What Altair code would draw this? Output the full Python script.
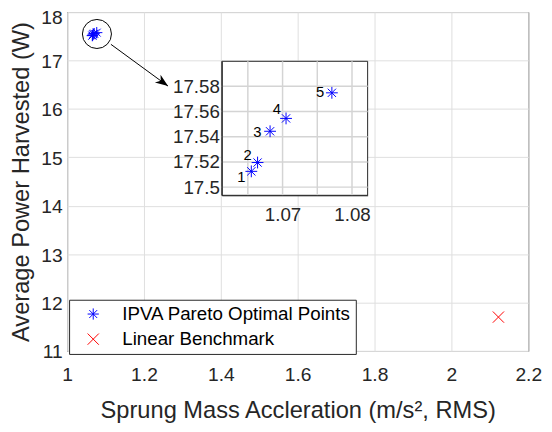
import altair as alt
import pandas as pd

# ---------------- data ----------------
series_names = ["IPVA Pareto Optimal Points", "Linear Benchmark"]
pareto_x = [1.0655, 1.0664, 1.0682, 1.0705, 1.0771]
pareto_y = [17.5125, 17.5195, 17.5443, 17.5545, 17.5748]
pareto_ids = ["1", "2", "3", "4", "5"]
bench_x = [2.1224]
bench_y = [11.70]

x_limits = [1.0, 2.2]
y_limits = [11.0, 18.0]
x_ticks = [1.0, 1.2, 1.4, 1.6, 1.8, 2.0, 2.2]
y_ticks = [11, 12, 13, 14, 15, 16, 17, 18]

inset_x_limits = [1.06125, 1.08225]
inset_y_limits = [17.4935, 17.5998]
inset_x_grid = [1.065, 1.07, 1.075, 1.08]
inset_x_labels = [1.07, 1.08]
inset_y_ticks = [17.50, 17.52, 17.54, 17.56, 17.58]

zoom_circle_xy = [1.0776, 17.547]
arrow_from = [1.114, 17.333]
arrow_to = [1.2626, 16.471]
arrow_head_xy = [1.2492, 16.549]

# ---------------- style ----------------
FONT = "Liberation Sans"
AX = "#262626"
GRID = "#dedede"
INSET_GRID = "#d4d4d4"
W, H = 468, 344
ASTERISK = "M-1,0L1,0M0,-1L0,1M-0.7,-0.7L0.7,0.7M-0.7,0.7L0.7,-0.7"
XMARK = "M-1,-1L1,1M-1,1L1,-1"
ARROWHEAD = "M1,0L-1,-0.75L-0.4,0L-1,0.75Z"
label_offsets = [(-10, 6), (-10, -7.7), (-12.8, 1.3), (-9.3, -9.7), (-12, -0.3)]

main_xs = alt.Scale(domain=x_limits, nice=False, zero=False)
main_ys = alt.Scale(domain=y_limits, nice=False, zero=False)

main_x_axis = alt.Axis(
    orient="bottom", values=x_ticks, format="~g",
    title="Sprung Mass Accleration (m/s\u00b2, RMS)",
    grid=True, gridColor=GRID, gridWidth=1, domain=False, ticks=False, tickSize=0,
    labelFont=FONT, labelFontSize=19.5, labelColor=AX, labelPadding=30,
    labelBaseline="alphabetic", labelFlush=False, labelOverlap=False,
    titleFont=FONT, titleFontSize=24, titleFontWeight="normal", titleColor=AX,
    titleBaseline="alphabetic", titleY=68,
)
main_y_axis = alt.Axis(
    orient="left", values=y_ticks, format="d",
    title="Average Power Harvested (W)",
    grid=True, gridColor=GRID, gridWidth=1, domain=False, ticks=False, tickSize=0,
    labelFont=FONT, labelFontSize=19.5, labelColor=AX, labelPadding=5,
    labelOffset={"condition": {"test": "datum.value >= 18", "value": 6}, "value": 1},
    labelFlush=False, labelOverlap=False,
    titleFont=FONT, titleFontSize=24, titleFontWeight="normal", titleColor=AX,
    titleBaseline="alphabetic", titleAngle=-90, titleX=-39.5, titleY=172,
)

legend = alt.Legend(
    title=None, orient="none", legendX=2, legendY=292,
    padding=5, rowPadding=5.5, strokeColor=AX, fillColor="white", cornerRadius=0,
    symbolSize=130, symbolStrokeWidth=1, symbolOffset=10, labelOffset=20,
    labelFont=FONT, labelFontSize=19, labelColor="black", labelLimit=400,
)

pts_df = pd.DataFrame({
    "x": pareto_x + bench_x,
    "y": pareto_y + bench_y,
    "series": [series_names[0]] * len(pareto_x) + [series_names[1]] * len(bench_x),
})


def mx(field="x"):
    return alt.X(f"{field}:Q", scale=main_xs, axis=main_x_axis)


def my(field="y"):
    return alt.Y(f"{field}:Q", scale=main_ys, axis=main_y_axis)


points = alt.Chart(pts_df).mark_point(filled=False, strokeWidth=1, size=130, opacity=1).encode(
    x=mx(), y=my(),
    color=alt.Color("series:N", scale=alt.Scale(domain=series_names, range=["#0000ff", "#ff0000"]), legend=legend),
    shape=alt.Shape("series:N", scale=alt.Scale(domain=series_names, range=[ASTERISK, XMARK]), legend=legend),
)

circle = alt.Chart(pd.DataFrame({"x": [zoom_circle_xy[0]], "y": [zoom_circle_xy[1]]})).mark_point(
    shape="circle", filled=False, size=870, color="black", strokeWidth=1, opacity=1
).encode(x=mx(), y=my())

arrow_line = alt.Chart(pd.DataFrame({
    "x": [arrow_from[0]], "y": [arrow_from[1]], "x2": [arrow_to[0]], "y2": [arrow_to[1]]
})).mark_rule(color="black", strokeWidth=1).encode(x=mx(), y=my(), x2="x2:Q", y2="y2:Q")

arrow_head = alt.Chart(pd.DataFrame({"x": [arrow_head_xy[0]], "y": [arrow_head_xy[1]]})).mark_point(
    shape=ARROWHEAD, filled=True, size=169, angle=36, color="black", opacity=1
).encode(x=mx(), y=my())

main = alt.layer(points, circle, arrow_line, arrow_head)

# ---------------- inset ----------------
ixs = alt.Scale(domain=inset_x_limits, range=[157, 305], nice=False, zero=False)
iys = alt.Scale(domain=inset_y_limits, range=[186, 50], nice=False, zero=False)
inset_x_axis = alt.Axis(
    orient="bottom", offset=-158, values=inset_x_labels, format="~g", title=None,
    grid=False, domain=True, domainColor=AX, domainWidth=1, ticks=False, tickSize=0,
    labelFont=FONT, labelFontSize=19, labelColor=AX, labelBaseline="alphabetic",
    labelPadding=25.7, labelFlush=False, labelOverlap=False, zindex=1,
)
inset_y_axis = alt.Axis(
    orient="left", offset=-157, values=inset_y_ticks, format="~g", title=None,
    grid=False, domain=True, domainColor=AX, domainWidth=1, ticks=False, tickSize=0,
    labelFont=FONT, labelFontSize=19, labelColor=AX, labelPadding=2.5,
    labelFlush=False, labelOverlap=False, zindex=1,
)


def ix(field="x"):
    return alt.X(f"{field}:Q", scale=ixs, axis=inset_x_axis)


def iy(field="y"):
    return alt.Y(f"{field}:Q", scale=iys, axis=inset_y_axis)


box = alt.Chart(pd.DataFrame({
    "x": [inset_x_limits[0]], "x2": [inset_x_limits[1]],
    "y": [inset_y_limits[0]], "y2": [inset_y_limits[1]],
})).mark_rect(fill="white", stroke=AX, strokeWidth=1).encode(x=ix(), x2="x2:Q", y=iy(), y2="y2:Q")

vgrid = alt.Chart(pd.DataFrame({
    "x": inset_x_grid,
    "y": [inset_y_limits[0]] * len(inset_x_grid),
    "y2": [inset_y_limits[1]] * len(inset_x_grid),
})).mark_rule(color=INSET_GRID, strokeWidth=1.5).encode(x=ix(), y=iy(), y2="y2:Q")

hgrid = alt.Chart(pd.DataFrame({
    "y": inset_y_ticks,
    "x": [inset_x_limits[0]] * len(inset_y_ticks),
    "x2": [inset_x_limits[1]] * len(inset_y_ticks),
})).mark_rule(color=INSET_GRID, strokeWidth=1.5).encode(x=ix(), x2="x2:Q", y=iy())

inset_df = pd.DataFrame({"x": pareto_x, "y": pareto_y, "id": pareto_ids})
inset_pts = alt.Chart(inset_df).mark_point(
    shape=ASTERISK, filled=False, size=144, color="#0000ff", strokeWidth=1, opacity=1
).encode(x=ix(), y=iy())

labels = []
for i, (dx, dy) in enumerate(label_offsets):
    labels.append(
        alt.Chart(inset_df.iloc[[i]]).mark_text(
            dx=dx, dy=dy, align="center", baseline="middle", fontSize=15, font=FONT, color="black"
        ).encode(x=ix(), y=iy(), text="id:N")
    )

inset = alt.layer(box, vgrid, hgrid, inset_pts, *labels)

chart = alt.layer(main, inset).resolve_scale(x="independent", y="independent").properties(
    width=W, height=H,
    padding={"left": 60, "top": 1, "right": 16, "bottom": 71},
    autosize=alt.AutoSizeParams(type="none"),
).configure(font=FONT).configure_view(stroke=AX, strokeWidth=1)

chart.save("out.html", embed_options={"renderer": "svg", "actions": False})
